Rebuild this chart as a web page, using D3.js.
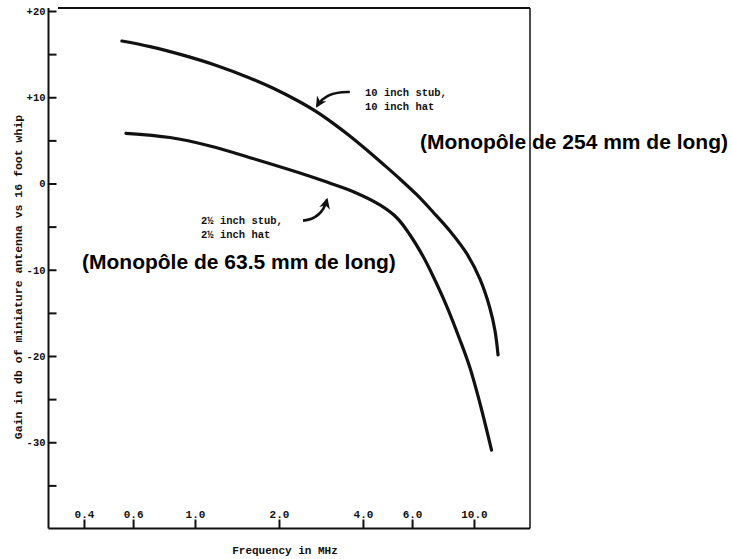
<!DOCTYPE html>
<html><head><meta charset="utf-8">
<script src="https://cdn.jsdelivr.net/npm/d3@7"></script>
<style>body{margin:0;background:#fff} svg{display:block}</style>
</head><body><svg id="c" width="732" height="559"></svg>
<script>
// ---- data ----
const freq10 = [0.547,0.690,0.906,1.20,1.57,1.90,2.38,2.74,3.12,3.59,4.13,4.72,5.43,6.25,7.13,8.20,9.44,10.5,11.4,11.9,12.2];
const gain10 = [16.52,15.87,14.88,13.66,12.24,11.07,9.45,8.27,7.0,5.51,3.88,2.26,0.52,-1.33,-3.30,-5.51,-8.17,-11.07,-14.43,-17.10,-19.88];
const freq25 = [0.566,0.814,1.132,1.613,2.378,2.97,3.68,4.60,5.30,5.90,6.56,7.13,8.01,8.91,9.68,10.5,11.56];
const gain25 = [5.82,5.33,4.35,2.90,1.22,0.17,-0.93,-2.49,-4.0,-5.97,-8.41,-10.72,-14.32,-18.14,-21.39,-25.45,-30.9];
const xTicks = [0.4,0.6,1.0,2.0,4.0,6.0,10.0];
const xTickLabels = ["0.4","0.6","1.0","2.0","4.0","6.0","10.0"];
const yMajor = [20,10,0,-10,-20,-30];
const yMajorLabels = ["+20","+10","0","-10","-20","-30"];
const yMinor = [15,5,-5,-15,-25,-35];
const xTitle = "Frequency in MHz";
const yTitle = "Gain in db of miniature antenna vs 16 foot whip";
const note10 = ["10 inch stub,","10 inch hat"];
const note25 = ["2\u00BD inch stub,","2\u00BD inch hat"];
const label10 = "(Monopôle de 254 mm de long)";
const label25 = "(Monopôle de 63.5 mm de long)";
// arrows in data coordinates: [tail, control, head] as [freq, gain]
const arrow10 = [[3.59,10.6],[2.95,10.7],[2.74,9.0]];
const arrow25 = [[2.44,-4.3],[2.85,-4.1],[2.97,-1.9]];

const svg = d3.select("#c");
const ink = "#111";
const mono = "'Liberation Mono','DejaVu Sans Mono',monospace";
const sans = "'Liberation Sans',Arial,sans-serif";

const x = d3.scaleLog().domain([0.2985, 15.88]).range([48.5, 530]);
const y = d3.scaleLinear().domain([20, -40]).range([11, 528.5]);

// frame
const frame = svg.append("g").attr("stroke", ink).attr("stroke-width", 2).attr("fill","none");
frame.append("line").attr("x1", x.range()[0]).attr("x2", x.range()[0]).attr("y1", 8).attr("y2", y(-40));
frame.append("line").attr("x1", x.range()[0]).attr("x2", x.range()[1]).attr("y1", y(-40)).attr("y2", y(-40));
frame.append("line").attr("x1", 58).attr("x2", x.range()[1]).attr("y1", 8).attr("y2", 8);
frame.append("line").attr("x1", x.range()[1]).attr("x2", x.range()[1]).attr("y1", 8).attr("y2", y(-40)).attr("stroke-width",1.5);

// y axis
const yAxis = d3.axisLeft(y).tickValues(yMajor.concat(yMinor)).tickSize(-8).tickPadding(3)
  .tickFormat(d => { const i = yMajor.indexOf(d); return i >= 0 ? yMajorLabels[i] : ""; });
const gy = svg.append("g").attr("transform", `translate(${x.range()[0]},0)`).call(yAxis);
gy.select(".domain").remove();
gy.selectAll(".tick line").attr("stroke", ink).attr("stroke-width", 2);
gy.selectAll(".tick text").attr("fill", ink).attr("font-family", mono).attr("font-weight","bold").attr("font-size", 10.5);

// x axis
const xAxis = d3.axisTop(x).tickValues(xTicks).tickSize(9).tickPadding(2)
  .tickFormat(d => xTickLabels[xTicks.indexOf(d)]);
const gx = svg.append("g").attr("transform", `translate(0,${y(-40)})`).call(xAxis);
gx.select(".domain").remove();
gx.selectAll(".tick line").attr("stroke", ink).attr("stroke-width", 2);
gx.selectAll(".tick text").attr("fill", ink).attr("font-family", mono).attr("font-weight","bold").attr("font-size", 11);

// titles
svg.append("text").attr("x", 285).attr("y", 554).attr("text-anchor","middle")
  .attr("font-family", mono).attr("font-weight","bold").attr("font-size", 11).attr("fill", ink).text(xTitle);
svg.append("text").attr("transform","translate(22,277) rotate(-90)").attr("text-anchor","middle")
  .attr("font-family", mono).attr("font-weight","bold").attr("font-size", 11.5).attr("fill", ink).text(yTitle);

// curves
const line = d3.line().x(d => x(d[0])).y(d => y(d[1])).curve(d3.curveCatmullRom.alpha(0.5));
const series = [d3.zip(freq10, gain10), d3.zip(freq25, gain25)];
svg.append("g").selectAll("path").data(series).join("path")
  .attr("d", line).attr("fill","none").attr("stroke", ink).attr("stroke-width", 3.2)
  .attr("stroke-linecap","round");

// arrows
svg.append("defs").append("marker").attr("id","ah").attr("viewBox","0 0 10 10")
  .attr("refX", 8).attr("refY", 5).attr("markerWidth", 11).attr("markerHeight", 11)
  .attr("markerUnits","userSpaceOnUse").attr("orient","auto")
  .append("path").attr("d","M0,0 L10,5 L0,10 L3,5 Z").attr("fill", ink);
const arrowPath = a => {
  const p = a.map(d => [x(d[0]), y(d[1])]);
  return `M${p[0][0]},${p[0][1]} Q${p[1][0]},${p[1][1]} ${p[2][0]},${p[2][1]}`;
};
svg.append("g").selectAll("path").data([arrow10, arrow25]).join("path")
  .attr("d", arrowPath).attr("fill","none").attr("stroke", ink).attr("stroke-width", 2.6)
  .attr("marker-end","url(#ah)");

// notes
const noteG = svg.append("g").attr("font-family", mono).attr("font-weight","bold").attr("font-size", 10.5).attr("fill", ink);
note10.forEach((t,i) => noteG.append("text").attr("x", 365).attr("y", 96 + i*13.5).text(t));
note25.forEach((t,i) => noteG.append("text").attr("x", 201).attr("y", 224 + i*13.5).text(t));

// Monopôle labels
const lab = svg.append("g").attr("font-family", sans).attr("font-weight","bold").attr("font-size", 21).attr("fill","#000");
lab.append("text").attr("x", 420).attr("y", 149).text(label10);
lab.append("text").attr("x", 82).attr("y", 269).text(label25);
</script></body></html>
